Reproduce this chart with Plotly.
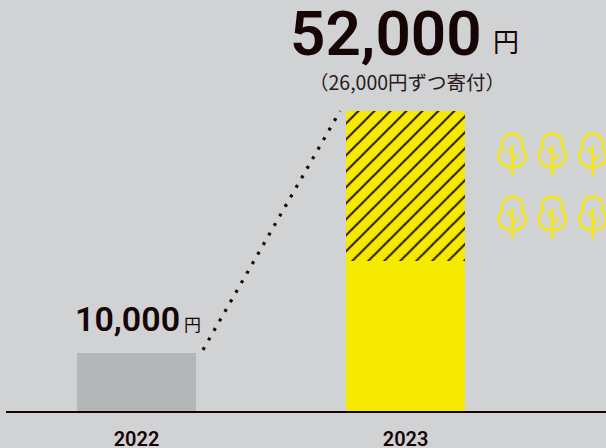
import plotly.graph_objects as go

# Donation totals per year
year_positions = [0, 1]
year_labels = ["2022", "2023"]
total_2022 = [10000]
donated_2023 = [26000]
matched_2023 = [26000]
connector_years = [0.247, 0.7565]
connector_values = [10600, 52000]

INK = "#170505"
YELLOW = "#f6ea00"
GREY = "#b5b6b8"
PAPER = "#d0d2d4"
W, H = 606, 448
LEFT, BOTTOM = 6, 37
BAR_W = 0.4424


def px(x):
    return (x - LEFT) / (W - LEFT)


def py(y):
    return (H - BOTTOM - y) / (H - BOTTOM)


fig = go.Figure()
fig.add_bar(x=[0], y=total_2022, width=BAR_W, marker=dict(color=GREY, line_width=0))
fig.add_bar(x=[1], y=donated_2023, width=BAR_W, marker=dict(color=YELLOW, line_width=0))
fig.add_bar(
    x=[1], y=matched_2023, width=BAR_W,
    marker=dict(
        color=YELLOW, line_width=0,
        pattern=dict(shape="/", size=11.3, solidity=0.17, fgcolor=INK, bgcolor=YELLOW, fillmode="replace"),
    ),
)
fig.add_scatter(
    x=connector_years, y=connector_values, mode="lines",
    line=dict(color=INK, width=3.2, dash="3px,8px"),
)


def label(text, x, y, size, family="Roboto", weight=600, color=INK):
    fig.add_annotation(
        xref="paper", yref="paper", x=px(x), y=py(y), text=text, showarrow=False,
        xanchor="left", yanchor="middle",
        font=dict(family=family, size=size, weight=weight, color=color),
    )


CJK = "Noto Sans CJK JP"
label("52,000", 288, 33, 62)
label("円", 491, 40, 26, CJK, 400)
label("（26,000円ずつ寄付）", 307, 82, 19.5, CJK, 400, "#2a1a1a")
label("10,000", 73, 319, 34)
label("円", 182, 323, 17, CJK, 400)

# Tree icon, drawn in pixels around an anchor at the top centre of the crown
TREE_PATH = (
    "M -9.5 14 C -12 5 -7 0 0 0 C 7 0 12 5 9.5 14 "
    "C 16 17 16 33 0 33 C -16 33 -16 17 -9.5 14 Z"
)
TRUNK_PATH = "M 0 11 L 0 42 M -5 15 L 0 20 M 7 21 L 0 27"
tree_columns = [512.3, 552.3, 592.7]
tree_rows = [134, 197]


def mirror_y(path):
    # Pixel-sized shape paths measure y upward from the anchor
    out, is_y = [], False
    for tok in path.split():
        if tok.lstrip("-").replace(".", "").isdigit():
            out.append(str(-float(tok)) if is_y else tok)
            is_y = not is_y
        else:
            out.append(tok)
    return " ".join(out)


for row in tree_rows:
    for col in tree_columns:
        for path in (TREE_PATH, TRUNK_PATH):
            fig.add_shape(
                type="path", xref="paper", yref="paper",
                xsizemode="pixel", ysizemode="pixel",
                xanchor=px(col), yanchor=py(row), path=mirror_y(path),
                line=dict(color=YELLOW, width=2.3), fillcolor="rgba(0,0,0,0)",
            )

fig.update_layout(
    width=W, height=H, autosize=False, showlegend=False,
    barmode="stack", bargap=0,
    margin=dict(l=LEFT, r=0, t=0, b=BOTTOM, autoexpand=False),
    paper_bgcolor=PAPER, plot_bgcolor=PAPER,
    xaxis=dict(
        range=[-0.4851, 1.745], tickvals=year_positions, ticktext=year_labels,
        showgrid=False, zeroline=False, showline=True, linecolor=INK, linewidth=2,
        ticks="", ticklabelstandoff=9, automargin=False,
        tickfont=dict(family="Roboto", size=20, weight=600, color=INK),
    ),
    yaxis=dict(range=[0, 71240], visible=False, showgrid=False, zeroline=False, automargin=False),
)

fig.write_html("out.html", config=dict(displayModeBar=False))
